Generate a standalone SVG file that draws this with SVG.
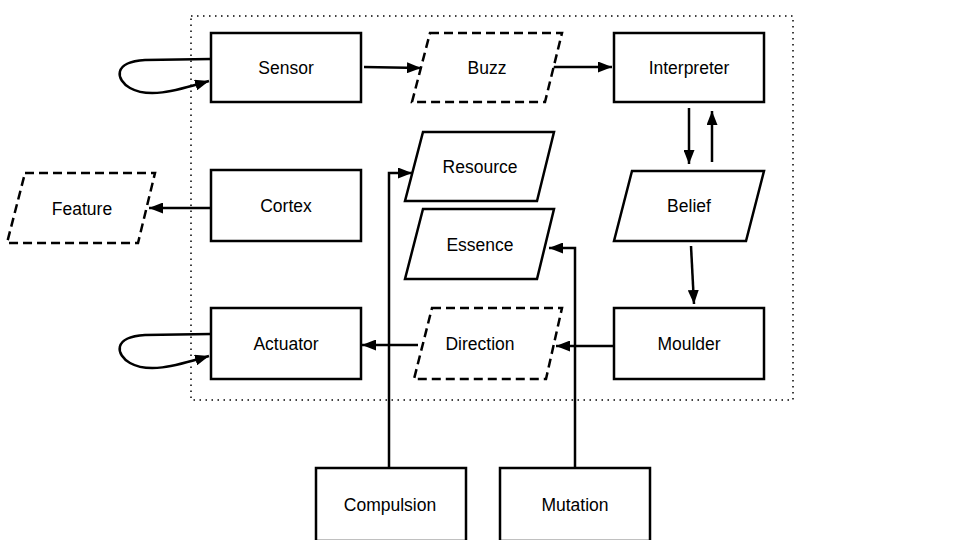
<svg xmlns="http://www.w3.org/2000/svg" width="960" height="540" viewBox="0 0 960 540">
<defs>
<marker id="ah" markerWidth="14" markerHeight="11" refX="14" refY="5.5" orient="auto" markerUnits="userSpaceOnUse">
<path d="M0,0 L14,5.5 L0,11 Z" fill="#000"/>
</marker>
<style>
.box{fill:#fff;stroke:#000;stroke-width:2.5}
.dash{fill:#fff;stroke:#000;stroke-width:2.5;stroke-dasharray:9 5}
.lbl{font-family:"Liberation Sans",Arial,sans-serif;font-size:17.5px;fill:#000;text-anchor:middle;dominant-baseline:central}
.ca{fill:none;stroke:#000;stroke-width:2.5;marker-end:url(#ah)}
</style>
</defs>
<rect width="960" height="540" fill="#fff"/>
<rect id="container" x="191" y="16" width="602" height="384" fill="none" stroke="#000" stroke-width="1.5" stroke-dasharray="1.5 4.5"/>
<g id="connectors">
<path class="ca" d="M211,59 L145,60 C112,62 116,80 130,88 C148,98 172,92 209,81"/>
<path class="ca" d="M211,334 L145,335 C112,337 116,355 130,363 C148,373 172,367 209,356"/>
<path class="ca" d="M364,67 L421,68"/>
<path class="ca" d="M553,67 L612,67"/>
<path class="ca" d="M689,108 L689,164"/>
<path class="ca" d="M712,162 L712,111"/>
<path class="ca" d="M691,246 L694,304"/>
<path class="ca" d="M211,208 L149,208"/>
<path class="ca" d="M614,346 L556,346"/>
<path class="ca" d="M418,345 L362,345"/>
<path class="ca" d="M389,468 L389,173 L412,173"/>
<path class="ca" d="M575,468 L575,248 L549,248"/>
</g>
<g id="sensor"><rect class="box" x="211" y="33" width="150" height="69"/><text class="lbl" x="286" y="68">Sensor</text></g>
<g id="buzz"><polygon class="dash" points="430,33 562,33 545,102 412,102"/><text class="lbl" x="487" y="68">Buzz</text></g>
<g id="interpreter"><rect class="box" x="614" y="33" width="150" height="69"/><text class="lbl" x="689" y="68">Interpreter</text></g>
<g id="resource"><polygon class="box" points="423,132 554,132 537,201 405,201"/><text class="lbl" x="480" y="167">Resource</text></g>
<g id="essence"><polygon class="box" points="423,209 554,209 537,279 405,279"/><text class="lbl" x="480" y="245">Essence</text></g>
<g id="belief"><polygon class="box" points="632,171 764,171 746,241 614,241"/><text class="lbl" x="689" y="206">Belief</text></g>
<g id="feature"><polygon class="dash" points="25,173 155,173 138,243 7,243"/><text class="lbl" x="82" y="209">Feature</text></g>
<g id="cortex"><rect class="box" x="211" y="170" width="150" height="71"/><text class="lbl" x="286" y="206">Cortex</text></g>
<g id="actuator"><rect class="box" x="211" y="308" width="150" height="71"/><text class="lbl" x="286" y="344">Actuator</text></g>
<g id="direction"><polygon class="dash" points="432,308 562,308 546,379 414,379"/><text class="lbl" x="480" y="344">Direction</text></g>
<g id="moulder"><rect class="box" x="614" y="308" width="150" height="71"/><text class="lbl" x="689" y="344">Moulder</text></g>
<g id="compulsion"><rect class="box" x="316" y="468" width="150" height="73"/><text class="lbl" x="390" y="505">Compulsion</text></g>
<g id="mutation"><rect class="box" x="500" y="468" width="150" height="73"/><text class="lbl" x="575" y="505">Mutation</text></g>
</svg>
